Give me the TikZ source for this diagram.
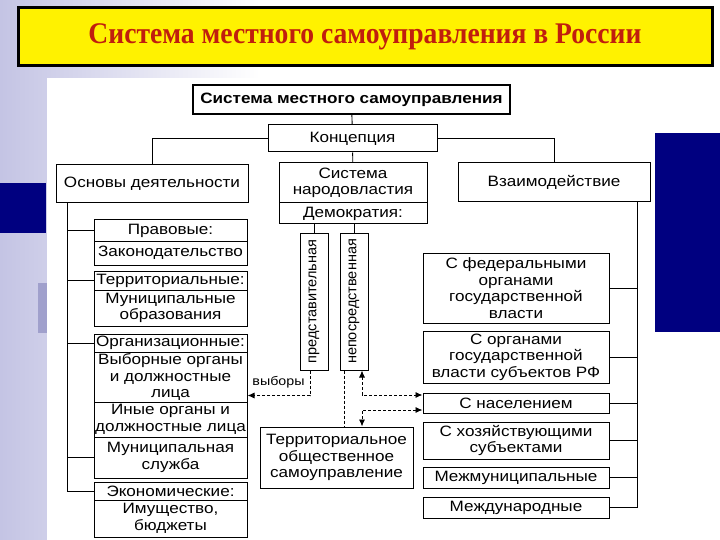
\documentclass[tikz,border=0pt]{standalone}
\usepackage{fontspec}
\setmainfont{Liberation Serif}[FakeStretch=0.92]
\setsansfont{Liberation Sans}[FakeStretch=1.14]
\newfontfamily\rotfont{Liberation Sans}
\usetikzlibrary{arrows.meta}
\definecolor{navy}{RGB}{0,0,128}
\definecolor{lav}{RGB}{196,196,228}
\definecolor{greyblue}{RGB}{160,160,204}
\definecolor{titlered}{RGB}{192,30,14}

\begin{document}
\begin{tikzpicture}[x=1pt,y=-1pt,
    box/.style={draw, line width=1pt, inner sep=0pt, align=center,
        font=\sffamily\fontsize{15}{16.6}\selectfont},
    sz/.style 2 args={minimum width=#1pt, minimum height=#2pt},
    link/.style={line width=0.9pt},
    dline/.style={line width=0.9pt, dash pattern=on 3pt off 2pt},
    >={Latex[length=7pt,width=6pt]}]
    \useasboundingbox (0,0) rectangle (720,540);

    \shade [left color=lav, right color=white] (0,0) rectangle (260,540);
    \fill [white] (260,0) rectangle (720,540);
    \fill [navy] (0,183) rectangle (46,233);
    \fill [greyblue] (38,283) rectangle (48,333);
    \fill [navy] (655,133) rectangle (720,332);
    \fill [white] (47,78) rectangle (655,540);

    \node [draw, line width=3pt, fill=yellow, sz={694}{58}, text=titlered,
        font=\bfseries\fontsize{30}{34}\selectfont] (ttl) at (365,37)
        {Система местного самоуправления в России};

    \node [box, sz={317}{29}, line width=1.6pt, font=\sffamily\bfseries\fontsize{15}{17}\selectfont] (top) at (351.5,99.5) {Система местного самоуправления};
    \node [box, sz={169}{27}] (konc) at (352.5,138.5) {Концепция};
    \node [box, sz={192}{38}] (osn) at (152,184) {Основы деятельности};
    \node [box, sz={148}{40}] (narod) at (353,183) {Система\\народовластия};
    \node [box, sz={148}{21}] (dem) at (353,213.5) {Демократия:};
    \node [box, sz={192}{39}] (vzaim) at (554,182.5) {Взаимодействие};

    \node [box, sz={153}{21}] (prav) at (170.5,230.5) {Правовые:};
    \node [box, sz={153}{24}] (zak) at (170.5,253) {Законодательство};
    \node [box, sz={153}{19}] (terr) at (170.5,280.5) {Территориальные:};
    \node [box, sz={153}{36}] (mun) at (170.5,308) {Муниципальные\\образования};
    \node [box, sz={153}{18}] (org) at (170.5,343) {Организационные:};
    \node [box, sz={153}{50}] (vyb) at (170.5,377) {Выборные органы\\и должностные\\лица};
    \node [box, sz={153}{35}] (inye) at (170.5,419.5) {Иные органы и\\должностные лица};
    \node [box, sz={153}{41}] (sluzh) at (170.5,457.5) {Муниципальная\\служба};
    \node [box, sz={153}{18}] (ekon) at (170.5,491) {Экономические:};
    \node [box, sz={153}{37}] (imush) at (170.5,518.5) {Имущество,\\бюджеты};

    \node [box, sz={28}{137}, font=\rotfont\fontsize{14.5}{16}\selectfont] (pred) at (314,301.5) {\rotatebox{90}{представительная}};
    \node [box, sz={28}{137}, font=\rotfont\fontsize{14.5}{16}\selectfont] (nepo) at (354,301.5) {\rotatebox{90}{непосредственная}};
    \node [box, sz={153}{61}] (tos) at (336.5,457.5) {Территориальное\\общественное\\самоуправление};
    \node [font=\sffamily\fontsize{12.5}{14}\selectfont, inner sep=0pt] (vybory) at (278.5,382) {выборы};

    \node [box, sz={186}{70}] (fed) at (516,288) {С федеральными\\органами\\государственной\\власти};
    \node [box, sz={186}{52}] (subj) at (516,357) {С органами\\государственной\\власти субъектов РФ};
    \node [box, sz={186}{20}] (nasel) at (516,403) {С населением};
    \node [box, sz={186}{37}] (hoz) at (516,440.5) {С хозяйствующими\\субъектами};
    \node [box, sz={186}{21}] (mezhm) at (516,477.5) {Межмуниципальные};
    \node [box, sz={186}{21}] (mezhd) at (516,507.5) {Международные};

    \coordinate (lb) at (67,491);
    \coordinate (rb) at (637,507.5);

    \draw [link] (top) -- (konc);
    \draw [link] (konc.west) -| (osn.north);
    \draw [link] (konc.east) -| (vzaim.north);
    \draw [link] (konc) -- (narod);
    \draw [link] (pred.north) -- (pred.north |- dem.south);
    \draw [link] (nepo.north) -- (nepo.north |- dem.south);

    \draw [link] (osn.south -| lb) -- (lb);
    \draw [link] (lb) -- (ekon.west);
    \draw [link] (prav.west -| lb) -- (prav.west);
    \draw [link] (terr.west -| lb) -- (terr.west);
    \draw [link] (org.west -| lb) -- (org.west);
    \draw [link] (sluzh.west -| lb) -- (sluzh.west);

    \draw [link] (vzaim.south -| rb) -- (rb);
    \draw [link] (rb) -- (mezhd.east);
    \draw [link] (fed.east) -- (fed.east -| rb);
    \draw [link] (subj.east) -- (subj.east -| rb);
    \draw [link] (nasel.east) -- (nasel.east -| rb);
    \draw [link] (hoz.east) -- (hoz.east -| rb);
    \draw [link] (mezhm.east) -- (mezhm.east -| rb);

    \draw [dline, ->] ([xshift=-4pt]pred.south) |- ([yshift=7pt]vyb.south east);
    \draw [dline] ([xshift=-10pt]nepo.south) -- ([xshift=-10pt]nepo.south |- tos.north);
    \draw [dline, <->] ([xshift=8pt]nepo.south) |- ([yshift=8pt]nasel.west);
    \draw [dline, <->] ([yshift=-7pt]nasel.west) -| ([xshift=25.5pt]tos.north);
\end{tikzpicture}
\end{document}
